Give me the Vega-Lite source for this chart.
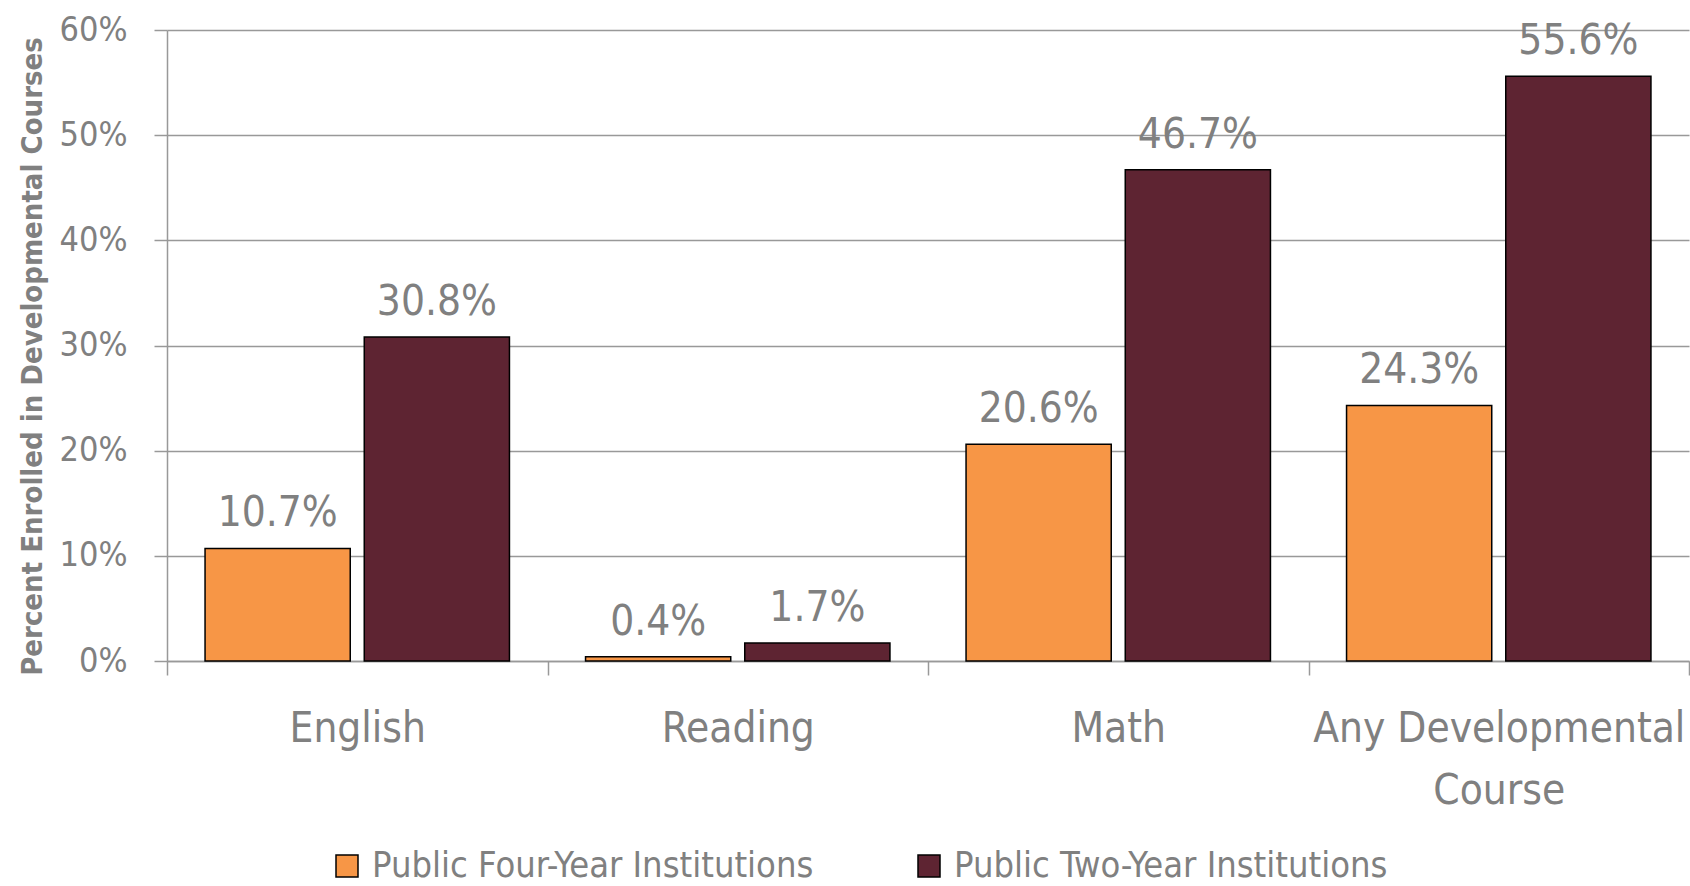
{
  "$schema": "https://vega.github.io/schema/vega-lite/v6.json",
  "width": 1522,
  "height": 631,
  "autosize": {"type": "none"},
  "padding": {"left": 167, "top": 30, "right": 1, "bottom": 225},
  "background": "white",
  "config": {
    "font": "DejaVu Sans Condensed, sans-serif",
    "view": {"stroke": null}
  },
  "data": {
    "values": [
      {"course": "English", "type": "Public Four-Year Institutions", "value": 0.107},
      {"course": "English", "type": "Public Two-Year Institutions", "value": 0.308},
      {"course": "Reading", "type": "Public Four-Year Institutions", "value": 0.004},
      {"course": "Reading", "type": "Public Two-Year Institutions", "value": 0.017},
      {"course": "Math", "type": "Public Four-Year Institutions", "value": 0.206},
      {"course": "Math", "type": "Public Two-Year Institutions", "value": 0.467},
      {"course": "Any Developmental Course", "type": "Public Four-Year Institutions", "value": 0.243},
      {"course": "Any Developmental Course", "type": "Public Two-Year Institutions", "value": 0.556}
    ]
  },
  "encoding": {
    "x": {
      "field": "course", "type": "nominal",
      "sort": ["English", "Reading", "Math", "Any Developmental Course"],
      "scale": {"paddingInner": 0, "paddingOuter": 0},
      "axis": {
        "title": null,
        "labelAngle": 0,
        "labelFontSize": 42,
        "labelColor": "#808080",
        "labelPadding": 33,
        "labelLineHeight": 62,
        "labelBaseline": "top",
        "labelLimit": 2000,
        "labelExpr": "datum.label == 'Any Developmental Course' ? ['Any Developmental', 'Course'] : datum.label",
        "tickBand": "extent",
        "tickSize": 14,
        "tickColor": "#999999",
        "tickWidth": 1.5,
        "domainColor": "#999999",
        "domainWidth": 1.5,
        "grid": false
      }
    },
    "xOffset": {
      "field": "type", "type": "nominal",
      "scale": {"paddingInner": 0.088, "paddingOuter": 0.239}
    },
    "y": {
      "field": "value", "type": "quantitative",
      "scale": {"domain": [0, 0.6], "nice": false},
      "axis": {
        "title": "Percent Enrolled in Developmental Courses",
        "titleFontSize": 29,
        "titleFontWeight": "bold",
        "titleColor": "#808080",
        "titlePadding": 12,
        "titleY": 326,
        "format": ".0%",
        "values": [0, 0.1, 0.2, 0.3, 0.4, 0.5, 0.6],
        "labelFontSize": 34,
        "labelColor": "#808080",
        "labelPadding": 27,
        "tickSize": 13,
        "tickColor": "#999999",
        "tickWidth": 1.5,
        "domainColor": "#999999",
        "domainWidth": 1.5,
        "gridColor": "#999999",
        "gridWidth": 1.5
      }
    }
  },
  "layer": [
    {
      "mark": {"type": "bar", "stroke": "black", "strokeWidth": 1.5},
      "encoding": {
        "color": {
          "field": "type", "type": "nominal",
          "scale": {"domain": ["Public Four-Year Institutions", "Public Two-Year Institutions"], "range": ["#F79646", "#5E2432"]},
          "legend": {
            "title": null,
            "orient": "none",
            "direction": "horizontal",
            "legendX": 162,
            "legendY": 818,
            "padding": 0,
            "symbolType": "square",
            "symbolSize": 484,
            "symbolStrokeColor": "black",
            "symbolStrokeWidth": 1.5,
            "symbolOpacity": 1,
            "labelFontSize": 36,
            "labelColor": "#808080",
            "labelOffset": 7,
            "labelLimit": 0,
            "columnPadding": 97
          }
        }
      }
    },
    {
      "mark": {"type": "text", "dy": -22, "baseline": "alphabetic", "fontSize": 42, "color": "#808080"},
      "encoding": {
        "text": {"field": "value", "type": "quantitative", "format": ".1%"}
      }
    }
  ]
}
